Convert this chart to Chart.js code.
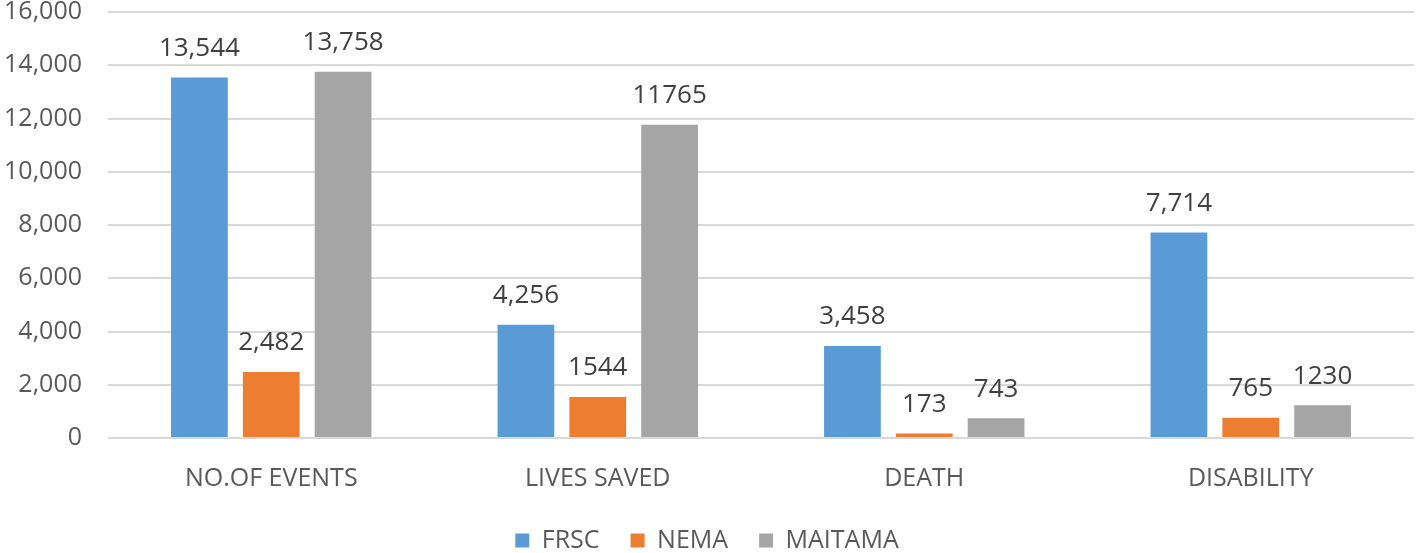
<!DOCTYPE html>
<html>
<head>
<meta charset="utf-8">
<script src="https://cdn.jsdelivr.net/npm/chart.js@4/dist/chart.umd.min.js"></script>
<style>
  html, body { margin: 0; padding: 0; background: #fff; }
</style>
</head>
<body>
<canvas id="chart" width="1418" height="553"></canvas>
<script>
const categories = ["NO.OF EVENTS", "LIVES SAVED", "DEATH", "DISABILITY"];
const frsc = [13544, 4256, 3458, 7714];
const nema = [2482, 1544, 173, 765];
const maitama = [13758, 11765, 743, 1230];
// labels as printed in the picture (some have commas, some don't)
const frscLabels = ["13,544", "4,256", "3,458", "7,714"];
const nemaLabels = ["2,482", "1544", "173", "765"];
const maitamaLabels = ["13,758", "11765", "743", "1230"];

const font = "'Open Sans', sans-serif";

const valueLabels = {
  id: "valueLabels",
  afterDatasetsDraw(chart) {
    const ctx = chart.ctx;
    ctx.save();
    ctx.font = "26px " + font;
    ctx.fillStyle = "#404040";
    ctx.textAlign = "center";
    ctx.textBaseline = "middle";
    chart.data.datasets.forEach((ds, i) => {
      const meta = chart.getDatasetMeta(i);
      meta.data.forEach((bar, j) => {
        ctx.fillText(ds.labels[j], bar.x, bar.y - 29);
      });
    });
    ctx.restore();
  },
};

new Chart(document.getElementById("chart"), {
  type: "bar",
  data: {
    labels: categories,
    datasets: [
      { label: "FRSC", data: frsc, labels: frscLabels, backgroundColor: "#5B9BD5" },
      { label: "NEMA", data: nema, labels: nemaLabels, backgroundColor: "#ED7D31" },
      { label: "MAITAMA", data: maitama, labels: maitamaLabels, backgroundColor: "#A5A5A5" },
    ],
  },
  options: {
    responsive: false,
    animation: false,
    categoryPercentage: 0.66,
    barPercentage: 0.79,
    layout: { padding: { top: 12, right: 4, left: 0, bottom: -10 } },
    plugins: {
      tooltip: { enabled: false },
      legend: {
        position: "bottom",
        labels: {
          font: { family: font, size: 25 },
          color: "#595959",
          boxWidth: 14,
          boxHeight: 14,
          padding: 31,
        },
      },
    },
    scales: {
      x: {
        afterFit(scale) { scale.height = 59; },
        grid: { display: false },
        border: { display: false },
        ticks: { font: { family: font, size: 25 }, color: "#595959", padding: 18 },
      },
      y: {
        min: 0,
        max: 16000,
        afterFit(scale) {
          scale.width = 108;
          scale.paddingTop = 0;
        },
        grid: { color: "#D9D9D9", lineWidth: 2, drawTicks: false },
        border: { display: false },
        ticks: {
          stepSize: 2000,
          font: { family: font, size: 25 },
          color: "#595959",
          padding: 26,
          callback: (v) => v.toLocaleString("en-US"),
        },
      },
    },
  },
  plugins: [valueLabels],
});
</script>
</body>
</html>
